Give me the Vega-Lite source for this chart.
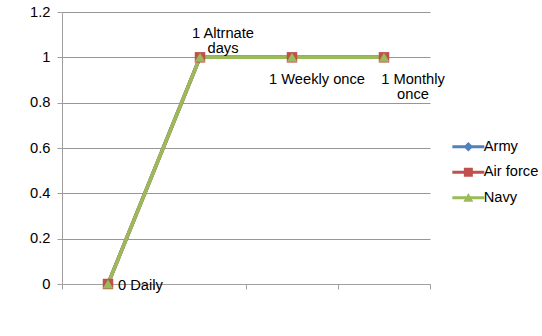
{
  "$schema": "https://vega.github.io/schema/vega-lite/v6.json",
  "width": 368,
  "height": 272,
  "autosize": {"type": "none"},
  "padding": {"left": 62, "top": 12, "right": 112, "bottom": 52},
  "background": "white",
  "config": {
    "view": {"stroke": null},
    "font": "Liberation Sans",
    "text": {"font": "Liberation Sans", "fontSize": 14.7, "color": "#000000"}
  },
  "datasets": {
    "series": [
      {"category": "Daily", "series": "Army", "value": 0},
      {"category": "Altrnate days", "series": "Army", "value": 1},
      {"category": "Weekly once", "series": "Army", "value": 1},
      {"category": "Monthly once", "series": "Army", "value": 1},
      {"category": "Daily", "series": "Air force", "value": 0},
      {"category": "Altrnate days", "series": "Air force", "value": 1},
      {"category": "Weekly once", "series": "Air force", "value": 1},
      {"category": "Monthly once", "series": "Air force", "value": 1},
      {"category": "Daily", "series": "Navy", "value": 0},
      {"category": "Altrnate days", "series": "Navy", "value": 1},
      {"category": "Weekly once", "series": "Navy", "value": 1},
      {"category": "Monthly once", "series": "Navy", "value": 1}
    ],
    "labels": [
      {"category": "Daily", "value": 0, "label": "0 Daily"},
      {"category": "Altrnate days", "value": 1, "label": "1 Altrnate\ndays"},
      {"category": "Weekly once", "value": 1, "label": "1 Weekly once"},
      {"category": "Monthly once", "value": 1, "label": "1 Monthly\nonce"}
    ]
  },
  "encoding": {
    "x": {
      "field": "category",
      "type": "nominal",
      "sort": ["Daily", "Altrnate days", "Weekly once", "Monthly once"],
      "scale": {"type": "band", "paddingInner": 0, "paddingOuter": 0},
      "axis": {
        "title": null,
        "labels": false,
        "tickBand": "extent",
        "grid": false,
        "domainColor": "#a0a0a0",
        "tickColor": "#a0a0a0",
        "tickSize": 5
      }
    },
    "y": {
      "field": "value",
      "type": "quantitative",
      "scale": {"domain": [0, 1.2], "nice": false},
      "axis": {
        "title": null,
        "values": [0, 0.2, 0.4, 0.6, 0.8, 1, 1.2],
        "format": "~g",
        "labelFont": "Liberation Sans",
        "labelFontSize": 14.7,
        "labelColor": "#000000",
        "labelPadding": 7,
        "tickSize": 5,
        "tickColor": "#a0a0a0",
        "domainColor": "#a0a0a0",
        "gridColor": "#969696",
        "grid": true
      }
    }
  },
  "layer": [
    {
      "data": {"name": "series"},
      "mark": {"type": "line", "strokeWidth": 3.5},
      "encoding": {
        "color": {
          "field": "series",
          "type": "nominal",
          "scale": {"domain": ["Army", "Air force", "Navy"], "range": ["#4F81BD", "#C0504D", "#9BBB59"]},
          "legend": {
            "title": null,
            "orient": "none",
            "legendX": 383,
            "legendY": 127.5,
            "padding": 0,
            "symbolSize": 100,
            "symbolOffset": 16,
            "labelOffset": 8,
            "labelFont": "Liberation Sans",
            "labelFontSize": 14.7,
            "labelColor": "#000000",
            "rowPadding": 9.5,
            "encode": {
              "symbols": {
                "update": {
                  "shape": {"signal": "datum.value === 'Army' ? 'M-3.2,-0.3H3.2V0.3H-3.2Z M0,-0.95L0.95,0L0,0.95L-0.95,0Z' : datum.value === 'Air force' ? 'M-3.2,-0.3H3.2V0.3H-3.2Z M-0.9,-0.9H0.9V0.9H-0.9Z' : 'M-3.2,-0.3H3.2V0.3H-3.2Z M0,-0.95L1,0.8H-1Z'"},
                  "fill": {"scale": "color", "field": "value"},
                  "stroke": {"value": "transparent"},
                  "strokeWidth": {"value": 0},
                  "opacity": {"value": 1}
                }
              }
            }
          }
        }
      }
    },
    {
      "data": {"name": "series"},
      "transform": [{"filter": "datum.series === 'Army'"}],
      "mark": {"type": "point", "filled": true, "opacity": 1, "size": 110, "shape": "diamond", "color": "#4F81BD"}
    },
    {
      "data": {"name": "series"},
      "transform": [{"filter": "datum.series === 'Air force'"}],
      "mark": {"type": "point", "filled": true, "opacity": 1, "size": 110, "shape": "square", "color": "#C0504D"}
    },
    {
      "data": {"name": "series"},
      "transform": [{"filter": "datum.series === 'Navy'"}],
      "mark": {"type": "point", "filled": true, "opacity": 1, "size": 110, "shape": "triangle-up", "color": "#9BBB59"}
    },
    {
      "data": {"name": "labels"},
      "transform": [{"filter": "datum.category === 'Daily'"}],
      "mark": {"type": "text", "align": "left", "baseline": "middle", "dx": 10, "dy": 1.5},
      "encoding": {"text": {"field": "label"}}
    },
    {
      "data": {"name": "labels"},
      "transform": [{"filter": "datum.category === 'Altrnate days'"}],
      "mark": {"type": "text", "align": "center", "baseline": "bottom", "dx": 23, "dy": -16, "lineBreak": "\n", "lineHeight": 15},
      "encoding": {"text": {"field": "label"}}
    },
    {
      "data": {"name": "labels"},
      "transform": [{"filter": "datum.category === 'Weekly once'"}],
      "mark": {"type": "text", "align": "center", "baseline": "top", "dx": 25, "dy": 14.4},
      "encoding": {"text": {"field": "label"}}
    },
    {
      "data": {"name": "labels"},
      "transform": [{"filter": "datum.category === 'Monthly once'"}],
      "mark": {"type": "text", "align": "center", "baseline": "top", "dx": 29, "dy": 14.4, "lineBreak": "\n", "lineHeight": 15},
      "encoding": {"text": {"field": "label"}}
    }
  ]
}
